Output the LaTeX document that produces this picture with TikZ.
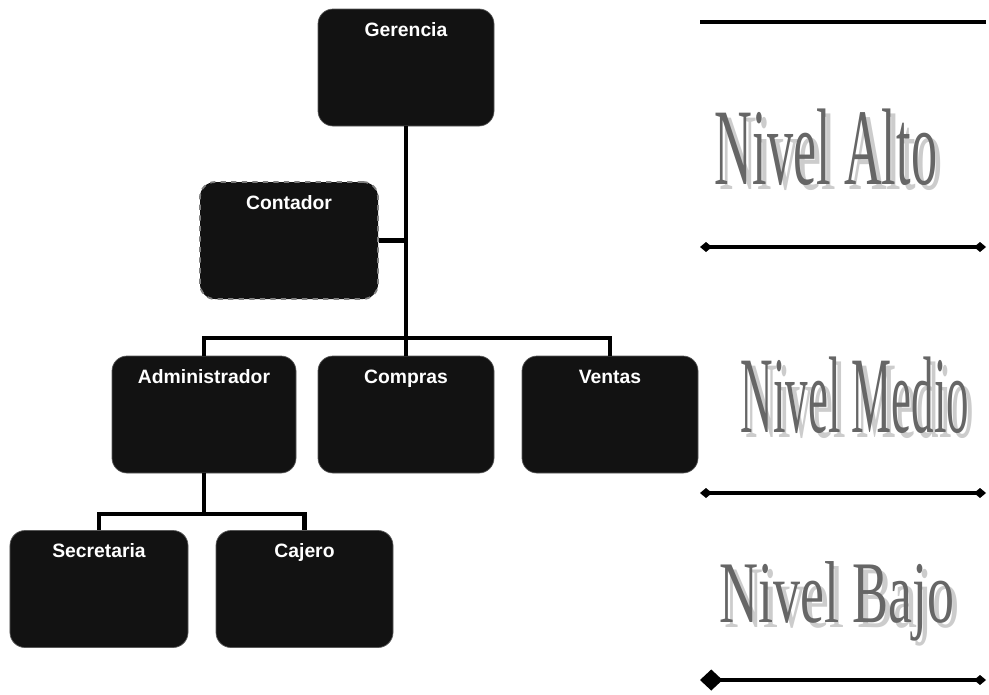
\documentclass[tikz,border=0pt]{standalone}
\usepackage{fontspec}
\setmainfont{Liberation Serif}
\setsansfont{Liberation Sans}
\usetikzlibrary{arrows.meta}
\begin{document}
\begin{tikzpicture}[font=\sf]
        \tikzset{cargo/.style={draw=gray!70!black,fill=black!93,rounded corners=0.3cm,inner sep=0pt,
                minimum height=2.34cm,text height=0.52cm,text depth=1.78cm,text=white,
                font=\sffamily\bfseries\fontsize{11}{11}\selectfont},
                enlace/.style={line width=2.3pt},
                nivel/.style={font=\rmfamily\fontsize{62}{62}\selectfont,xscale=0.48,text=gray!80!black},
                sombra/.style={nivel,text=gray!40},
                tope/.style={line width=2.6pt}}
        \useasboundingbox (0,0) rectangle (19.78,-13.88);
        \node[cargo,minimum width=3.52cm](ger) at (8.12,-1.35) {Gerencia};
        \node[cargo,minimum width=3.56cm,dashed,draw=gray,line width=1pt](con) at (5.78,-4.81) {Contador};
        \node[cargo,minimum width=3.68cm](adm) at (4.08,-8.29) {Administrador};
        \node[cargo,minimum width=3.52cm](com) at (8.12,-8.29) {Compras};
        \node[cargo,minimum width=3.52cm](ven) at (12.2,-8.29) {Ventas};
        \node[cargo,minimum width=3.56cm](sec) at (1.98,-11.78) {Secretaria};
        \node[cargo,minimum width=3.54cm](caj) at (6.09,-11.78) {Cajero};
        \coordinate (barra) at (8.12,-6.76);
        \coordinate (barra2) at (4.08,-10.28);
        \draw[enlace] (ger) -- (com);
        \draw[enlace] (adm.north) |- (barra) -| (ven.north);
        \draw[enlace] (con.east) -- (con.east -| ger.south);
        \draw[enlace] (adm) -- (barra2);
        \draw[enlace] (sec.north) |- (barra2) -| (caj.north);
        \coordinate (a1) at (14.0,-0.44);
        \coordinate (a2) at (19.72,-0.44);
        \coordinate (b1) at (14.0,-4.94);
        \coordinate (b2) at (19.72,-4.94);
        \coordinate (c1) at (14.0,-9.86);
        \coordinate (c2) at (19.72,-9.86);
        \coordinate (d1) at (14.0,-13.6);
        \coordinate (d2) at (19.72,-13.6);
        \draw[tope] (a1) -- (a2);
        \draw[tope,{Diamond[length=0.24cm,width=0.2cm]}-{Diamond[length=0.24cm,width=0.2cm]}] (b1) -- (b2);
        \draw[tope,{Diamond[length=0.24cm,width=0.2cm]}-{Diamond[length=0.24cm,width=0.2cm]}] (c1) -- (c2);
        \draw[tope,{Diamond[length=0.45cm,width=0.42cm]}-{Diamond[length=0.24cm,width=0.2cm]}] (d1) -- (d2);
        \node[sombra](sa) at (16.62,-3.04) {Nivel Alto};
        \node[nivel](na) at (16.52,-2.94) {Nivel Alto};
        \node[sombra,xscale=0.86](sm) at (17.2,-8.0) {Nivel Medio};
        \node[nivel,xscale=0.86](nm) at (17.1,-7.9) {Nivel Medio};
        \node[sombra,font=\rmfamily\fontsize{50}{50}\selectfont,xscale=1.28](sb) at (16.84,-12.12) {Nivel Bajo};
        \node[nivel,font=\rmfamily\fontsize{50}{50}\selectfont,xscale=1.28](nb) at (16.74,-12.02) {Nivel Bajo};
    \end{tikzpicture}
\end{document}
